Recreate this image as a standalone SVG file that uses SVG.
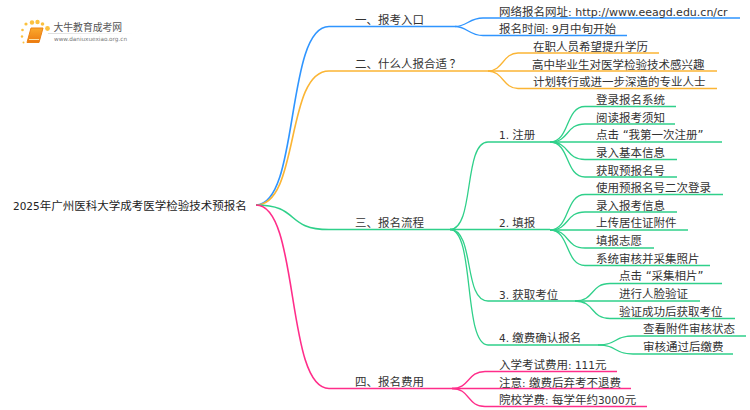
<svg xmlns="http://www.w3.org/2000/svg" width="750" height="410" viewBox="0 0 750 410">
<style>
text{font-family:"DejaVu Sans","Noto Sans CJK SC",sans-serif;font-size:11.5px;fill:#333}
.r{fill:#222}
.l{font-size:10.5px}
.u{font-size:11px}
path{fill:none;stroke-width:1.3}
.m{stroke-width:1.6}
.b{stroke:#2f95ff}.o{stroke:#fbb534}.g{stroke:#2fd08a}.p{stroke:#ff2d8a}
</style>
<defs>
<linearGradient id="bk" x1="0" y1="0" x2="0" y2="1"><stop offset="0" stop-color="#fba92c"/><stop offset="1" stop-color="#ec7a10"/></linearGradient>
<linearGradient id="fd" x1="0" y1="0" x2="1" y2="0"><stop offset="0" stop-color="#ddd"/><stop offset="1" stop-color="#fff"/></linearGradient>
</defs>
<g id="connectors">
<path class="m b" d="M256,205C300,205 285,26.500 329,26.500H455"/>
<path class="b" d="M455,26.500C467,26.500 469,18 483,18H740"/>
<path class="b" d="M455,26.500C467,26.500 469,35.500 483,35.500H627"/>
<path class="m o" d="M256,205C300,205 285,71 329,71H488"/>
<path class="o" d="M488,71C503,71 503,53 518,53H659"/>
<path class="o" d="M488,71H717"/>
<path class="o" d="M488,71C503,71 503,88.500 518,88.500H717"/>
<path class="m g" d="M256,205C300,205 285,229.500 329,229.500H450"/>
<path class="g" d="M450,229.500C475,229.500 463,142 488,142H550"/>
<path class="g" d="M450,229.500H550"/>
<path class="g" d="M450,229.500C475,229.500 463,301 488,301H575"/>
<path class="g" d="M450,229.500C475,229.500 463,345 488,345H598"/>
<path class="g" d="M550,142C570,142 565,106.500 585,106.500H676"/>
<path class="g" d="M550,142C570,142 565,124 585,124H675"/>
<path class="g" d="M550,142H722"/>
<path class="g" d="M550,142C570,142 565,159.500 585,159.500H677"/>
<path class="g" d="M550,142C570,142 565,177 585,177H677"/>
<path class="g" d="M550,230C570,230 565,194.500 585,194.500H723"/>
<path class="g" d="M550,230C570,230 565,212 585,212H677"/>
<path class="g" d="M550,230H688"/>
<path class="g" d="M550,230C570,230 565,248 585,248H654"/>
<path class="g" d="M550,230C570,230 565,265.500 585,265.500H710"/>
<path class="g" d="M575,301C595,301 590,283.500 610,283.500H722"/>
<path class="g" d="M575,301H700"/>
<path class="g" d="M575,301C595,301 590,318.500 610,318.500H735"/>
<path class="g" d="M598,345C618,345 613,336 633,336H746"/>
<path class="g" d="M598,345C618,345 613,354 633,354H733"/>
<path class="m p" d="M256,205C300,205 285,388.500 329,388.500H452"/>
<path class="p" d="M452,388.500C470,388.500 467,371.500 485,371.500H617"/>
<path class="p" d="M452,388.500H631"/>
<path class="p" d="M452,388.500C470,388.500 467,406.500 485,406.500H647"/>
</g>
<g id="logo">
<g fill="#fbc13f"><circle cx="32" cy="22.500" r="2.200"/><circle cx="37.500" cy="22" r="2.200"/><circle cx="26" cy="24" r="1.600"/><circle cx="42.500" cy="24" r="1.800"/><circle cx="47.500" cy="28.500" r="2.400"/><circle cx="22.500" cy="30" r="1.300"/><circle cx="22" cy="36.500" r="1.200"/><circle cx="23.500" cy="42.500" r="1"/></g>
<path d="M31,28H43L39,42.500H27Z" style="fill:url(#bk);stroke:#ec8215;stroke-width:1;stroke-linejoin:round"/>
<path d="M29,39.500H39" style="stroke:#fde2a8;stroke-width:1"/>
<rect x="48" y="33" width="85" height="1" fill="url(#fd)"/>
<text x="53.500" y="31" style="font-size:9.800px;fill:#555">大牛教育成考网</text>
<text x="54" y="41" style="font-size:5.700px;fill:#777">www.daniuxuexiao.org.cn</text>
</g>
<g id="root"><text class="r" x="13" y="210"><tspan class="l">2025</tspan>年广州医科大学成考医学检验技术预报名</text></g>
<g id="n1"><text x="355" y="24">一、报考入口</text></g>
<g id="n1a"><text x="499" y="15.500">网络报名网址<tspan class="u">: http://www.eeagd.edu.cn/cr</tspan></text></g>
<g id="n1b"><text x="499" y="33">报名时间<tspan class="l">: 9</tspan>月中旬开始</text></g>
<g id="n2"><text x="355" y="68">二、什么人报合适<tspan dx="2.500">？</tspan></text></g>
<g id="n2a"><text x="533" y="50.500">在职人员希望提升学历</text></g>
<g id="n2b"><text x="532" y="68.500">高中毕业生对医学检验技术感兴趣</text></g>
<g id="n2c"><text x="533" y="86">计划转行或进一步深造的专业人士</text></g>
<g id="n3"><text x="355" y="227">三、报名流程</text></g>
<g id="n31"><text x="499" y="139"><tspan class="l">1. </tspan>注册</text></g>
<g id="n311"><text x="596" y="104">登录报名系统</text></g>
<g id="n312"><text x="596" y="121.500">阅读报考须知</text></g>
<g id="n313"><text x="596" y="139">点击 “我第一次注册”</text></g>
<g id="n314"><text x="596" y="157">录入基本信息</text></g>
<g id="n315"><text x="596" y="174.500">获取预报名号</text></g>
<g id="n32"><text x="499" y="227"><tspan class="l">2. </tspan>填报</text></g>
<g id="n321"><text x="596" y="192">使用预报名号二次登录</text></g>
<g id="n322"><text x="596" y="209.500">录入报考信息</text></g>
<g id="n323"><text x="596" y="227">上传居住证附件</text></g>
<g id="n324"><text x="596" y="245">填报志愿</text></g>
<g id="n325"><text x="596" y="262.500">系统审核并采集照片</text></g>
<g id="n33"><text x="499" y="298.500"><tspan class="l">3. </tspan>获取考位</text></g>
<g id="n331"><text x="619" y="280">点击 “采集相片”</text></g>
<g id="n332"><text x="619" y="298">进行人脸验证</text></g>
<g id="n333"><text x="619" y="316">验证成功后获取考位</text></g>
<g id="n34"><text x="499" y="342"><tspan class="l">4. </tspan>缴费确认报名</text></g>
<g id="n341"><text x="643" y="333">查看附件审核状态</text></g>
<g id="n342"><text x="643" y="351">审核通过后缴费</text></g>
<g id="n4"><text x="355" y="386">四、报名费用</text></g>
<g id="n41"><text x="499" y="369">入学考试费用<tspan class="l">: 111</tspan>元</text></g>
<g id="n42"><text x="499" y="386.500">注意<tspan class="l">: </tspan>缴费后弃考不退费</text></g>
<g id="n43"><text x="499" y="404">院校学费<tspan class="l">: </tspan>每学年约<tspan class="l">3000</tspan>元</text></g>
</svg>
